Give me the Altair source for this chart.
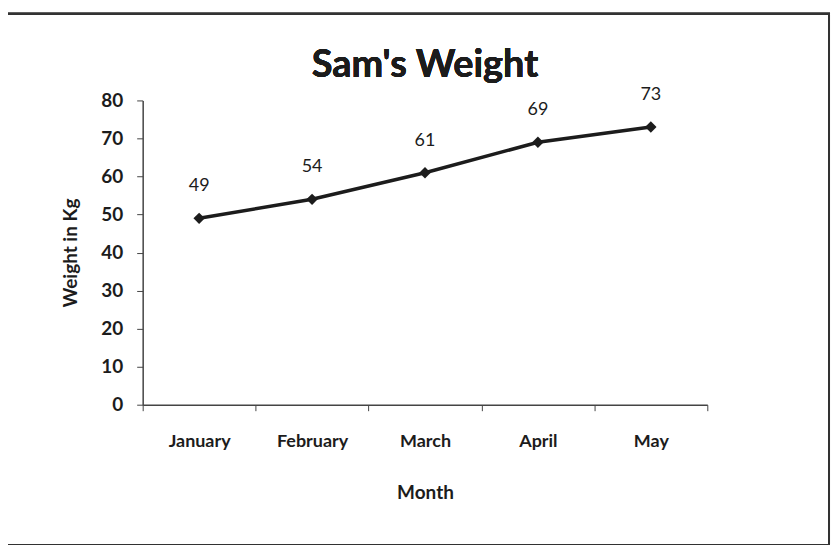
import altair as alt
import pandas as pd

months = ["January", "February", "March", "April", "May"]
weights = [49, 54, 61, 69, 73]
y_ticks = [0, 10, 20, 30, 40, 50, 60, 70, 80]

df = pd.DataFrame({"Month": months, "Weight": weights})

FONT = "Lato"
INK = "#1c1c1c"

x_enc = alt.X(
    "Month:N",
    sort=months,
    scale=alt.Scale(paddingInner=0, paddingOuter=0),
    axis=alt.Axis(
        title="Month",
        grid=False,
        labelAngle=0,
        labelFont=FONT,
        labelFontSize=18,
        labelFontWeight="bold",
        labelColor=INK,
        labelPadding=22,
        titleFont=FONT,
        titleFontSize=19,
        titleFontWeight="bold",
        titleColor=INK,
        titlePadding=33,
        domainColor="#444",
        domainWidth=1.5,
        tickColor="#444",
        tickSize=6,
        tickBand="extent",
    ),
)
y_enc = alt.Y(
    "Weight:Q",
    scale=alt.Scale(domain=[0, 80]),
    axis=alt.Axis(
        title="Weight in Kg",
        values=y_ticks,
        grid=False,
        labelOverlap=False,
        labelFont=FONT,
        labelFontSize=19,
        labelFontWeight="bold",
        labelColor=INK,
        labelPadding=14,
        titleFont=FONT,
        titleFontSize=19,
        titleFontWeight="bold",
        titleColor=INK,
        titlePadding=20,
        domainColor="#444",
        domainWidth=1.5,
        tickColor="#444",
        tickSize=6,
    ),
)

base = alt.Chart(df)

border = base.mark_rect(fill="transparent", stroke="#333", strokeWidth=2).encode(
    x=alt.value(-136), x2=alt.value(688), y=alt.value(-87), y2=alt.value(446)
)
title = base.mark_text(
    font=FONT, fontSize=38, fontWeight="bold", color=INK, baseline="alphabetic"
).encode(x=alt.value(283), y=alt.value(-23), text=alt.value("Sam's Weight"))

line = base.mark_line(color=INK, strokeWidth=3.5).encode(x=x_enc, y=y_enc)
pts = base.mark_point(shape="diamond", filled=True, color=INK, size=130, opacity=1).encode(
    x=x_enc, y=y_enc
)
labels = base.mark_text(font=FONT, fontSize=18, color=INK, dy=-32).encode(
    x=x_enc, y=y_enc, text="Weight:Q"
)

chart = (
    alt.layer(border, title, line, pts, labels)
    .properties(
        width=566,
        height=305,
        view=alt.ViewBackground(stroke="transparent", strokeWidth=0, strokeOpacity=0),
        autosize=alt.AutoSizeParams(type="none"),
        padding={"left": 135, "top": 92, "right": 125, "bottom": 140},
    )
    .configure_view(stroke="transparent", strokeWidth=0, strokeOpacity=0)
    .configure_axis(grid=False)
    .configure(background="white")
)

chart.save("out.html", embed_options={"renderer": "svg", "actions": False})
